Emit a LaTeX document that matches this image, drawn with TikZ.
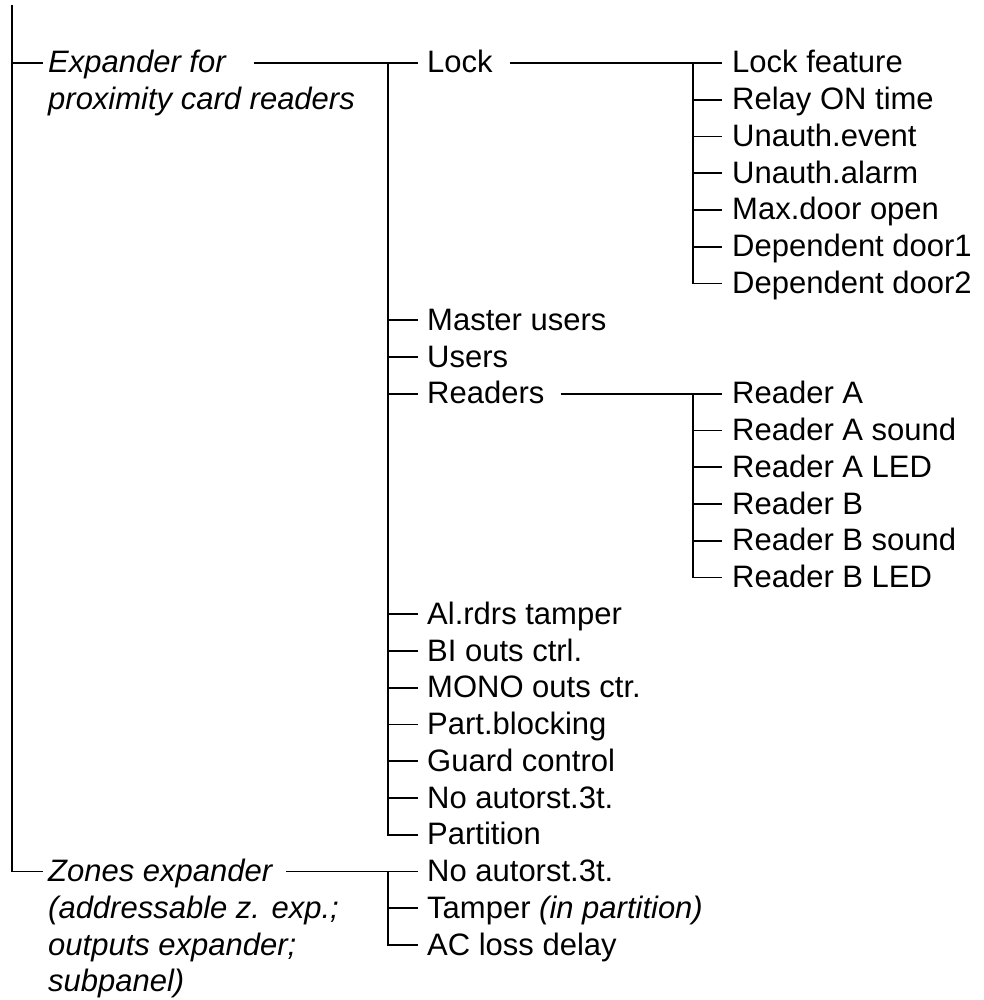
\documentclass[tikz,border=0pt]{standalone}
\usepackage{fontspec}
\setmainfont{Liberation Sans}
\begin{document}
\begin{tikzpicture}[x=1pt,y=-1pt,
  lbl/.style={anchor=west, inner sep=0pt, text height=22pt, text depth=2pt, font=\fontsize{31}{37}\selectfont},
  ilbl/.style={lbl, font=\fontsize{31}{37}\selectfont\itshape},
  link/.style={draw=black, line width=1.9pt}]
\useasboundingbox (0,0) rectangle (983,1000);
% level 1
\node[ilbl] (exp1) at (48,63) {Expander for};
\node[ilbl] (exp2) at (48,99.75) {proximity card readers};
\node[ilbl] (zon1) at (48,871.5) {Zones expander};
\node[ilbl] (zon2) at (48,908.25) {(addressable z. exp.;};
\node[ilbl] (zon3) at (48,945) {outputs expander;};
\node[ilbl] (zon4) at (48,981.75) {subpanel)};
% level 2
\node[lbl] (lock) at (427,63) {Lock};
\node[lbl] (mu) at (427,320.25) {Master users};
\node[lbl] (us) at (427,357) {Users};
\node[lbl] (rd) at (427,393.75) {Readers};
\node[lbl] (al) at (427,614.25) {Al.rdrs tamper};
\node[lbl] (bi) at (427,651) {BI outs ctrl.};
\node[lbl] (mo) at (427,687.75) {MONO outs ctr.};
\node[lbl] (pb) at (427,724.5) {Part.blocking};
\node[lbl] (gc) at (427,761.25) {Guard control};
\node[lbl] (na) at (427,798) {No autorst.3t.};
\node[lbl] (pa) at (427,834.75) {Partition};
\node[lbl] (zna) at (427,871.5) {No autorst.3t.};
\node[lbl] (zta) at (427,908.25) {Tamper \textit{(in partition)}};
\node[lbl] (zac) at (427,945) {AC loss delay};
% level 3
\node[lbl] (lf) at (732,63) {Lock feature};
\node[lbl] (ro) at (732,99.75) {Relay ON time};
\node[lbl] (ue) at (732,136.5) {Unauth.event};
\node[lbl] (ua) at (732,173.25) {Unauth.alarm};
\node[lbl] (md) at (732,210) {Max.door open};
\node[lbl] (d1) at (732,246.75) {Dependent door1};
\node[lbl] (d2) at (732,283.5) {Dependent door2};
\node[lbl] (ra) at (732,393.75) {Reader A};
\node[lbl] (ras) at (732,430.5) {Reader A sound};
\node[lbl] (ral) at (732,467.25) {Reader A LED};
\node[lbl] (rb) at (732,504) {Reader B};
\node[lbl] (rbs) at (732,540.75) {Reader B sound};
\node[lbl] (rbl) at (732,577.5) {Reader B LED};
% bracket points
\coordinate (root) at (12,5);
\coordinate (b2a) at (388,63);
\coordinate (b2b) at (388,871.5);
\coordinate (b3a) at (693,63);
\coordinate (b3b) at (693,393.75);
% connectors
\draw[link] (root) |- ([xshift=-5pt]exp1.west);
\draw[link] (root) |- ([xshift=-5pt]zon1.west);
\draw[link] ([xshift=28pt]exp1.east) -- ([xshift=-9pt]lock.west);
\draw[link] ([xshift=14pt]zon1.east) -- ([xshift=-9pt]zna.west);
\draw[link] ([xshift=17pt]lock.east) -- ([xshift=-10pt]lf.west);
\draw[link] ([xshift=16pt]rd.east) -- ([xshift=-10pt]ra.west);
\foreach \n in {mu,us,rd,al,bi,mo,pb,gc,na,pa}
  \draw[link] (b2a) |- ([xshift=-9pt]\n.west);
\foreach \n in {zta,zac}
  \draw[link] (b2b) |- ([xshift=-9pt]\n.west);
\foreach \n in {ro,ue,ua,md,d1,d2}
  \draw[link] (b3a) |- ([xshift=-10pt]\n.west);
\foreach \n in {ras,ral,rb,rbs,rbl}
  \draw[link] (b3b) |- ([xshift=-10pt]\n.west);
\end{tikzpicture}
\end{document}
